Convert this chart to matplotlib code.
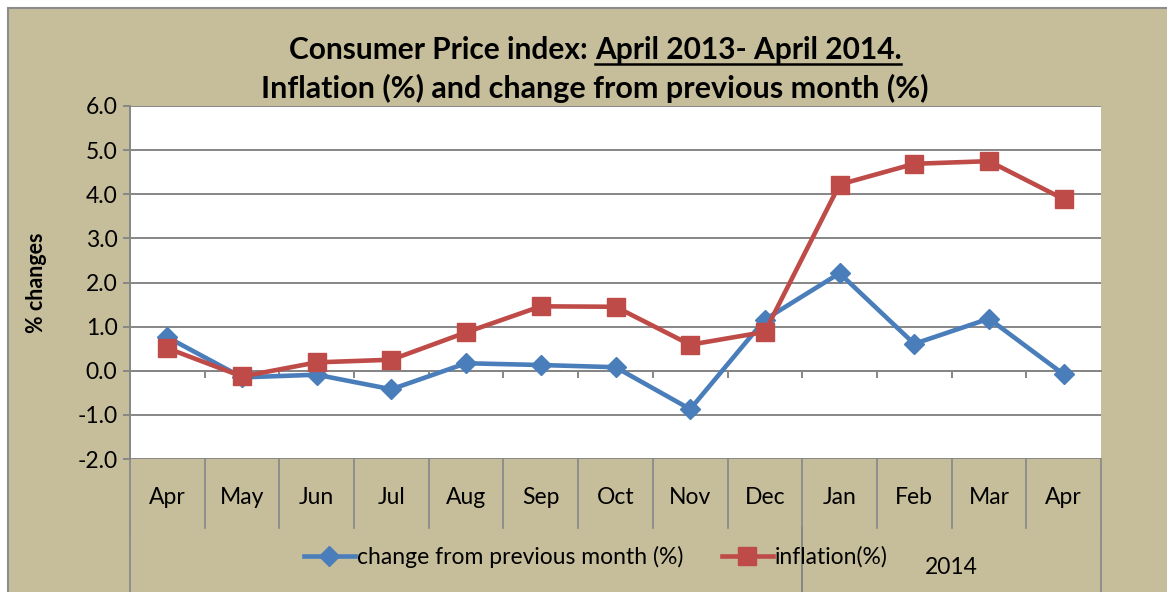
import matplotlib
matplotlib.use("Agg")
import matplotlib.pyplot as plt
import matplotlib.transforms as mtransforms
from matplotlib.patches import Rectangle
from matplotlib.lines import Line2D

plt.rcParams["font.family"] = ["Lato", "DejaVu Sans"]

# data
months = ["Apr", "May", "Jun", "Jul", "Aug", "Sep", "Oct", "Nov", "Dec",
          "Jan", "Feb", "Mar", "Apr"]
change = [0.76, -0.15, -0.09, -0.42, 0.17, 0.13, 0.08, -0.87, 1.16,
          2.21, 0.61, 1.18, -0.08]
inflation = [0.51, -0.13, 0.19, 0.25, 0.87, 1.46, 1.45, 0.59, 0.88,
             4.22, 4.69, 4.75, 3.89]
year_groups = [("", 0, 8), ("2014", 9, 12)]
y_ticks = [-2.0, -1.0, 0.0, 1.0, 2.0, 3.0, 4.0, 5.0, 6.0]

W, H = 1167, 592
bg = "#C6BE9A"
grid_c = "#868686"
blue = "#4A7EBB"
red = "#BE4B48"
fs = 16.5

fig = plt.figure(figsize=(W / 100, H / 100), dpi=100)
fig.patch.set_facecolor("white")
# chart area with thin border on left/top
fig.patches.append(Rectangle((8 / W, -0.01), 1.02, (H - 8) / H + 0.01,
                             transform=fig.transFigure, facecolor=bg,
                             edgecolor="#8C8C8C", lw=1.5, zorder=-5))

ax = fig.add_axes([130 / W, 133 / H, (1101 - 130) / W, (459 - 106) / H])
ax.set_facecolor("white")
x = list(range(len(months)))

ax.plot(x, change, color=blue, lw=3.3, marker="D", ms=10.5, mec=blue,
        label="change from previous month (%)", zorder=3)
ax.plot(x, inflation, color=red, lw=3.3, marker="s", ms=12.5, mec=red,
        label="inflation(%)", zorder=4)

ax.set_xlim(-0.5, len(months) - 0.5)
ax.set_ylim(-2, 6)
ax.set_yticks(y_ticks)
ax.set_yticklabels([f"{v:.1f}" for v in y_ticks], fontsize=fs)
ax.grid(axis="y", color=grid_c, lw=1.4)
ax.set_axisbelow(True)
for s in ["top", "right"]:
    ax.spines[s].set_visible(False)
ax.spines["left"].set_color(grid_c)
ax.spines["left"].set_linewidth(1.4)
ax.spines["bottom"].set_position(("data", 0))
ax.spines["bottom"].set_color(grid_c)
ax.spines["bottom"].set_linewidth(1.4)
ax.set_xticks([i + 0.5 for i in range(len(months) - 1)])
ax.set_xticklabels([])
ax.tick_params(axis="x", direction="out", length=5, color=grid_c, width=1.4)
ax.tick_params(axis="y", direction="out", length=5, color=grid_c, width=1.4,
               pad=4)

ax.set_ylabel("% changes", fontsize=15.5, fontweight="bold", labelpad=22)

# multi-level category axis below the plot
tr = mtransforms.blended_transform_factory(ax.transData, fig.transFigure)
y_axis_bottom = 133 / H
y_lvl1 = (592 - 528) / H
for i in range(len(months) + 1):
    xb = i - 0.5
    ax.add_line(Line2D([xb, xb], [y_lvl1, y_axis_bottom], transform=tr,
                       color=grid_c, lw=1.2, clip_on=False))
for i, m in enumerate(months):
    ax.text(i, (592 - 498) / H, m, transform=tr, ha="center", va="center",
            fontsize=fs)
for label, a, b in year_groups:
    for xb in (a - 0.5, b + 0.5):
        ax.add_line(Line2D([xb, xb], [-0.01, y_lvl1], transform=tr,
                           color=grid_c, lw=1.2, clip_on=False))
    if label:
        ax.text((a + b) / 2, (592 - 567) / H, label, transform=tr,
                ha="center", va="center", fontsize=fs)

# title with underlined part
fig.canvas.draw()
r = fig.canvas.get_renderer()
t1 = fig.text(0, 0, "Consumer Price index: ", fontsize=21.5, fontweight="bold")
t2 = fig.text(0, 0, "April 2013- April 2014.", fontsize=21.5, fontweight="bold")
w1 = t1.get_window_extent(r).width / W
w2 = t2.get_window_extent(r).width / W
x0 = 595 / W - (w1 + w2) / 2
ty = (592 - 50) / H
t1.set_position((x0, ty))
t1.set_va("center")
t2.set_position((x0 + w1, ty))
t2.set_va("center")
fig.add_artist(Line2D([x0 + w1, x0 + w1 + w2], [(592 - 64) / H] * 2,
                      transform=fig.transFigure, color="black", lw=1.8))
fig.text(595 / W, (592 - 88) / H,
         "Inflation (%) and change from previous month (%)",
         fontsize=22, fontweight="bold", ha="center", va="center")

leg = fig.legend(loc="center", bbox_to_anchor=(596 / W, 35 / H), ncol=2,
                 frameon=False, fontsize=fs, handlelength=2.2,
                 handletextpad=0.1, columnspacing=1.7)

fig.savefig("out.png", dpi=100, facecolor=fig.get_facecolor())
